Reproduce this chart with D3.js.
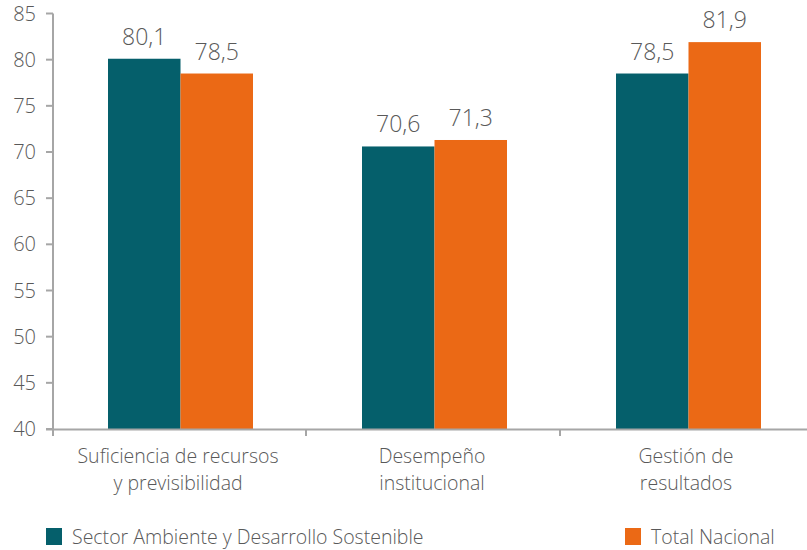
<!DOCTYPE html>
<html lang="es">
<head>
<meta charset="utf-8">
<title>Chart</title>
<script src="https://cdn.jsdelivr.net/npm/d3@7"></script>
<style>
  body { margin: 0; background: #fff; }
  text { font-family: "Open Sans", sans-serif; font-weight: 300; fill: #595959; }
</style>
</head>
<body>
<script>

var categories = [["Suficiencia de recursos", "y previsibilidad"], ["Desempeño", "institucional"], ["Gestión de", "resultados"]];
var seriesNames = ["Sector Ambiente y Desarrollo Sostenible", "Total Nacional"];
var sectorValues = [80.1, 70.6, 78.5];
var nacionalValues = [78.5, 71.3, 81.9];
var yTicks = [40, 45, 50, 55, 60, 65, 70, 75, 80, 85];
var colors = ["#055f6b", "#eb6915"];

var W = 807, H = 550;
var axisColor = "#a6a6a6";

var svg = d3.select("body").append("svg")
    .attr("width", W)
    .attr("height", H);

var x = d3.scaleBand()
    .domain(d3.range(categories.length))
    .range([52, 814]);

var xSub = d3.scaleBand()
    .domain([0, 1])
    .range([56, 56 + 145]);   // offset inside band

var y = d3.scaleLinear()
    .domain([40, 85])
    .range([429, 13.5]);

// y axis
svg.append("line")
    .attr("x1", 53).attr("x2", 53)
    .attr("y1", y(85)).attr("y2", y(40))
    .attr("stroke", axisColor).attr("stroke-width", 2);

svg.selectAll("line.ytick")
    .data(yTicks)
    .enter()
    .append("line")
    .attr("class", "ytick")
    .attr("x1", 46).attr("x2", 53)
    .attr("y1", function(d){ return y(d); })
    .attr("y2", function(d){ return y(d); })
    .attr("stroke", axisColor).attr("stroke-width", 2);

svg.selectAll("text.ylab")
    .data(yTicks)
    .enter()
    .append("text")
    .attr("class", "ylab")
    .attr("x", 36)
    .attr("y", function(d){ return y(d) + 7; })
    .attr("text-anchor", "end")
    .style("font-size", "20px")
    .text(function(d){ return d; });

// bars
var rows = categories.map(function(c, i){
    return [sectorValues[i], nacionalValues[i]];
});

var groups = svg.selectAll("g.group")
    .data(rows)
    .enter()
    .append("g")
    .attr("class", "group")
    .attr("transform", function(d, i){ return "translate(" + x(i) + ",0)"; });

groups.selectAll("rect")
    .data(function(d){ return d; })
    .enter()
    .append("rect")
    .attr("x", function(d, j){ return xSub(j); })
    .attr("width", xSub.bandwidth())
    .attr("y", function(d){ return y(d); })
    .attr("height", function(d){ return y(40) - y(d); })
    .attr("fill", function(d, j){ return colors[j]; });

groups.selectAll("text.val")
    .data(function(d){ return d; })
    .enter()
    .append("text")
    .attr("class", "val")
    .attr("x", function(d, j){ return xSub(j) + xSub.bandwidth() / 2; })
    .attr("y", function(d){ return y(d) - 14; })
    .attr("text-anchor", "middle")
    .style("font-size", "23px")
    .text(function(d){ return d3.format(".1f")(d).replace(".", ","); });

// x axis
svg.append("line")
    .attr("x1", 46).attr("x2", W)
    .attr("y1", 429.5).attr("y2", 429.5)
    .attr("stroke", axisColor).attr("stroke-width", 2);

svg.selectAll("line.xtick")
    .data(d3.range(categories.length))
    .enter()
    .append("line")
    .attr("class", "xtick")
    .attr("x1", function(d){ return x(d) + (d === 0 ? 1 : 0); })
    .attr("x2", function(d){ return x(d) + (d === 0 ? 1 : 0); })
    .attr("y1", 429).attr("y2", 436)
    .attr("stroke", axisColor).attr("stroke-width", 2);

var catLabels = svg.selectAll("text.cat")
    .data(categories)
    .enter()
    .append("text")
    .attr("class", "cat")
    .attr("text-anchor", "middle")
    .style("font-size", "19.5px")
    .attr("transform", function(d, i){ return "translate(" + (x(i) + x.bandwidth() / 2 - 1) + ",0)"; });

catLabels.selectAll("tspan")
    .data(function(d){ return d; })
    .enter()
    .append("tspan")
    .attr("x", 0)
    .attr("y", function(d, k){ return 463 + k * 27; })
    .text(function(d){ return d; });

// legend
var legendX = [46, 625];
var legend = svg.selectAll("g.legend")
    .data(seriesNames)
    .enter()
    .append("g")
    .attr("class", "legend")
    .attr("transform", function(d, i){ return "translate(" + legendX[i] + ",528)"; });

legend.append("rect")
    .attr("width", 16).attr("height", 17)
    .attr("fill", function(d, i){ return colors[i]; });

legend.append("text")
    .attr("x", 26)
    .attr("y", 16)
    .style("font-size", "19.5px")
    .text(function(d){ return d; });

</script>
</body>
</html>
